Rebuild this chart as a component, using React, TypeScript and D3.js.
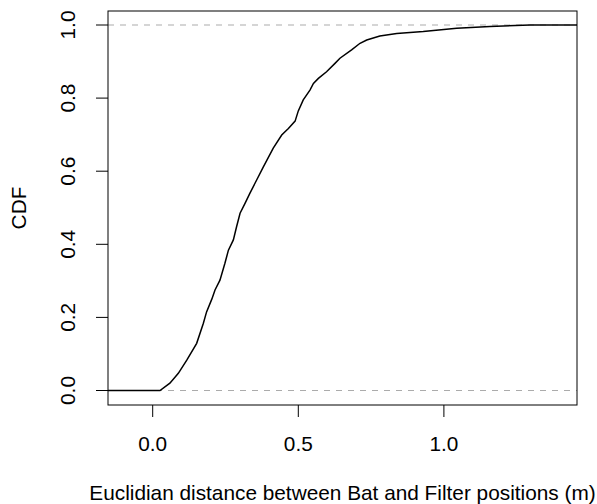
import * as d3 from "d3";

// ECDF curve (distance in m, cumulative share)
const distance = [
  0.025, 0.059, 0.088, 0.117, 0.151, 0.174, 0.185, 0.203, 0.214, 0.231, 0.248, 0.26,
  0.277, 0.288, 0.3, 0.317, 0.334, 0.357, 0.38, 0.414, 0.443, 0.466, 0.489, 0.5,
  0.517, 0.54, 0.552, 0.569, 0.597, 0.626, 0.643, 0.683, 0.712, 0.735, 0.78, 0.838,
  0.929, 1.044, 1.158, 1.296, 1.457,
];
const cdf = [
  0.0, 0.02, 0.047, 0.083, 0.129, 0.184, 0.215, 0.25, 0.275, 0.302, 0.348, 0.384,
  0.412, 0.448, 0.485, 0.512, 0.54, 0.576, 0.612, 0.663, 0.699, 0.717, 0.737, 0.765,
  0.795, 0.822, 0.84, 0.854, 0.872, 0.895, 0.909, 0.932, 0.95, 0.959, 0.97, 0.977,
  0.982, 0.991, 0.996, 1.0, 1.0,
];
const xTicks = [0, 0.5, 1.0];
const yTicks = [0, 0.2, 0.4, 0.6, 0.8, 1.0];
const xTitle = "Euclidian distance between Bat and Filter positions (m)";
const yTitle = "CDF";

const width = 597;
const height = 504;
const box = { left: 108, right: 577, top: 11, bottom: 405 };
const font = "'Liberation Sans', Arial, Helvetica, sans-serif";

export default function App() {
  // setup scaling
  const x = d3.scaleLinear().domain([0, 1]).range([152.7, 443.9]);
  const y = d3.scaleLinear().domain([0, 1]).range([390.5, 25]);

  // flat start at 0 from the left edge, then the curve
  const pts: [number, number][] = [[x.invert(box.left), 0]];
  distance.forEach((d, i) => pts.push([d, cdf[i]]));
  const line = d3
    .line<[number, number]>()
    .x((d) => x(d[0]))
    .y((d) => y(d[1]));

  return (
    <svg
      width={width}
      height={height}
      style={{ position: "absolute", left: 0, top: 0, background: "#fff" }}
      fontFamily={font}
      fontSize={20.8}
    >
      {/* reference lines at 0 and 1 */}
      {[0, 1].map((v) => (
        <line
          key={v}
          x1={box.left}
          x2={box.right}
          y1={y(v)}
          y2={y(v)}
          stroke="#ababab"
          strokeWidth={1}
          strokeDasharray="6 6"
        />
      ))}

      <path d={line(pts) ?? ""} fill="none" stroke="#000" strokeWidth={1.5} />

      <rect
        x={box.left}
        y={box.top}
        width={box.right - box.left}
        height={box.bottom - box.top}
        fill="none"
        stroke="#000"
        strokeWidth={1}
      />

      {/* x axis */}
      {xTicks.map((t) => (
        <g key={t}>
          <line x1={x(t)} x2={x(t)} y1={box.bottom} y2={box.bottom + 12} stroke="#000" />
          <text x={x(t)} y={451} textAnchor="middle">
            {d3.format(".1f")(t)}
          </text>
        </g>
      ))}
      <text x={(box.left + box.right) / 2} y={500} textAnchor="middle">
        {xTitle}
      </text>

      {/* y axis */}
      {yTicks.map((t) => (
        <g key={t}>
          <line x1={box.left - 12} x2={box.left} y1={y(t)} y2={y(t)} stroke="#000" />
          <text
            transform={`translate(75,${y(t)}) rotate(-90)`}
            textAnchor="middle"
          >
            {d3.format(".1f")(t)}
          </text>
        </g>
      ))}
      <text
        transform={`translate(26,${(box.top + box.bottom) / 2}) rotate(-90)`}
        textAnchor="middle"
      >
        {yTitle}
      </text>
    </svg>
  );
}
